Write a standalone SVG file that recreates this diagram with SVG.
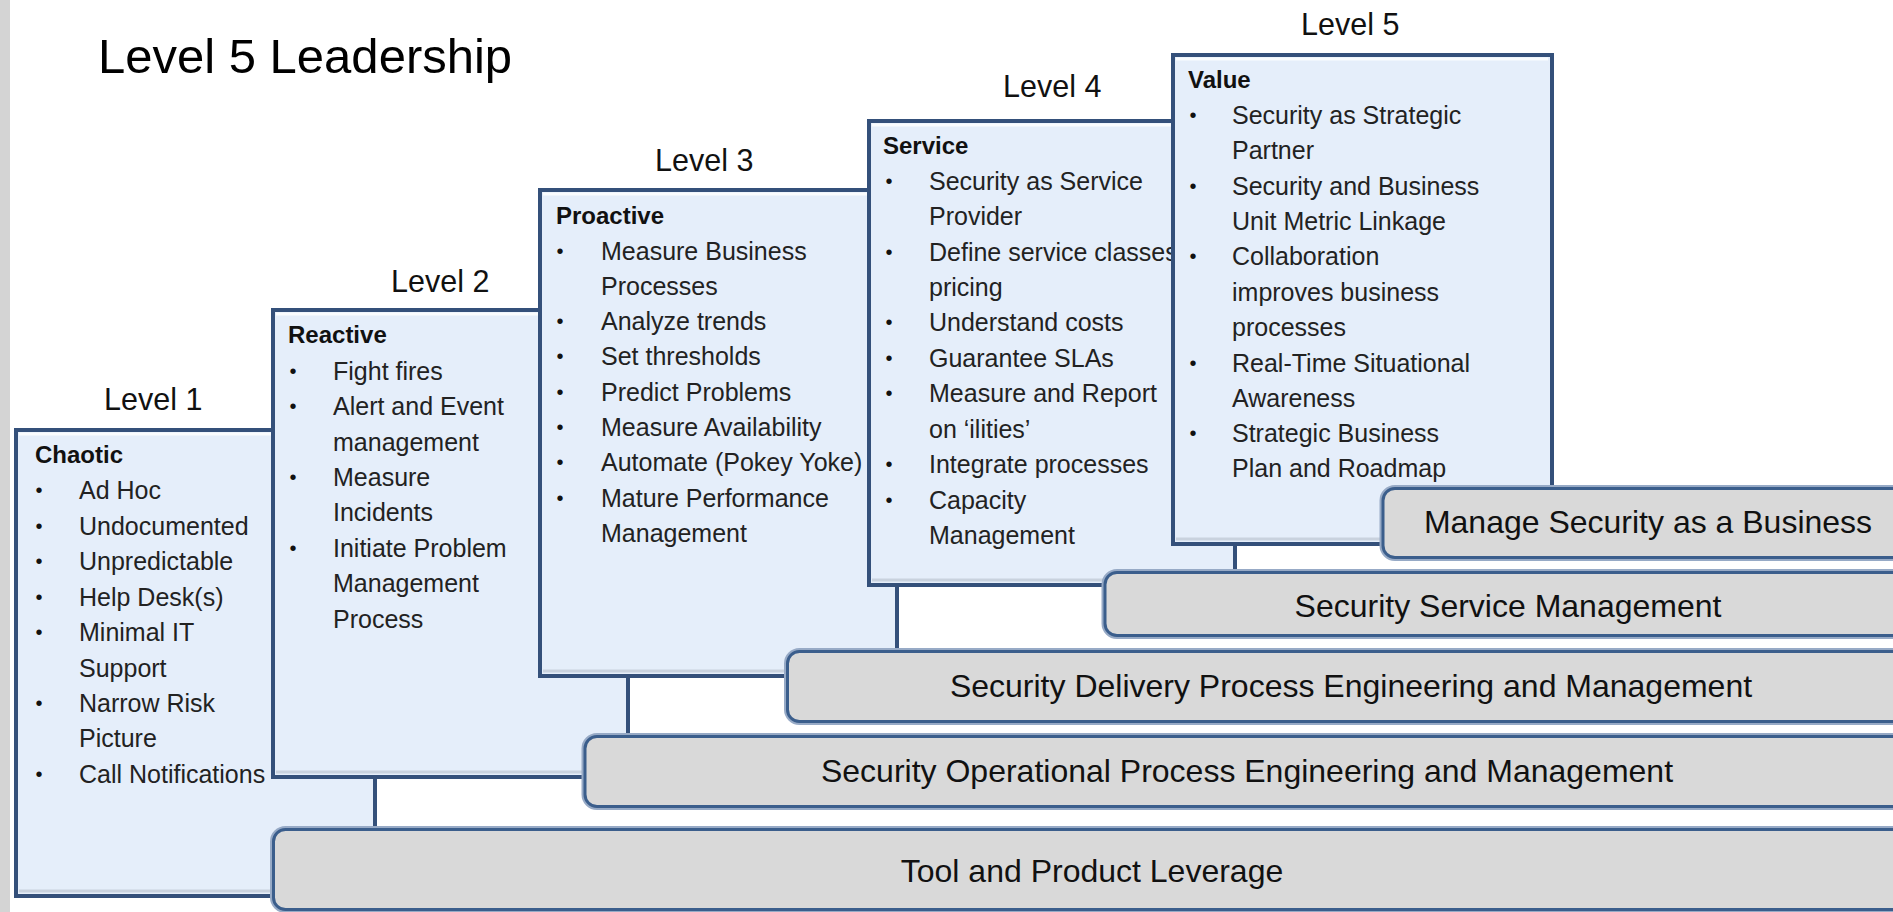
<svg xmlns="http://www.w3.org/2000/svg" width="1893" height="912" viewBox="0 0 1893 912">
<style>
  .box{fill:#e5eefa;stroke:#34507a;stroke-width:4}
  .hl{fill:none;stroke:#ffffff;stroke-width:3;opacity:.8}
  .sh{fill:none;stroke:#c9d2de;stroke-width:3}
  .barH{fill:none;stroke:#97aac6;stroke-width:7}
  .bar{fill:#d9d9d9;stroke:#3b5e8c;stroke-width:3}
  .lvl{font-family:"Liberation Sans",Arial,sans-serif;font-size:30.5px;fill:#111}
  .hd{font-family:"Liberation Sans",Arial,sans-serif;font-size:24px;font-weight:bold;fill:#111}
  .it{font-family:"Liberation Sans",Arial,sans-serif;font-size:25px;fill:#222}
  .bt{font-family:"Liberation Sans",Arial,sans-serif;font-size:20px;fill:#111;text-anchor:middle}
  .bl{font-family:"Liberation Sans",Arial,sans-serif;font-size:32px;fill:#111;text-anchor:middle}
</style>
<rect x="0" y="0" width="1893" height="912" fill="#ffffff"/>
<rect x="0" y="0" width="10" height="912" fill="#d4d4d4"/>
<text x="98" y="73" font-family="Liberation Sans, Arial, sans-serif" font-size="49" fill="#000">Level 5 Leadership</text>

<g id="level1">
  <text class="lvl" x="104" y="410">Level 1</text>
  <rect class="box" x="16" y="430" width="359" height="466"/>
  <line class="hl" x1="19" y1="434" x2="371" y2="434"/>
  <line class="sh" x1="19" y1="891" x2="371" y2="891"/>
  <text class="hd" x="35" y="463">Chaotic</text>
  <g>
    <text class="bt" x="39" y="497">•</text><text class="it" x="79" y="499">Ad Hoc</text>
    <text class="bt" x="39" y="533">•</text><text class="it" x="79" y="535">Undocumented</text>
    <text class="bt" x="39" y="568">•</text><text class="it" x="79" y="570">Unpredictable</text>
    <text class="bt" x="39" y="604">•</text><text class="it" x="79" y="606">Help Desk(s)</text>
    <text class="bt" x="39" y="639">•</text><text class="it" x="79" y="641">Minimal IT</text>
    <text class="it" x="79" y="677">Support</text>
    <text class="bt" x="39" y="710">•</text><text class="it" x="79" y="712">Narrow Risk</text>
    <text class="it" x="79" y="747">Picture</text>
    <text class="bt" x="39" y="781">•</text><text class="it" x="79" y="783">Call Notifications</text>
  </g>
</g>

<g id="level2">
  <text class="lvl" x="391" y="292">Level 2</text>
  <rect class="box" x="273" y="310" width="355" height="467"/>
  <line class="hl" x1="276" y1="314" x2="624" y2="314"/>
  <line class="sh" x1="276" y1="772" x2="624" y2="772"/>
  <text class="hd" x="288" y="343">Reactive</text>
  <text class="bt" x="293" y="378">•</text><text class="it" x="333" y="380">Fight fires</text>
  <text class="bt" x="293" y="413">•</text><text class="it" x="333" y="415">Alert and Event</text>
  <text class="it" x="333" y="451">management</text>
  <text class="bt" x="293" y="484">•</text><text class="it" x="333" y="486">Measure</text>
  <text class="it" x="333" y="521">Incidents</text>
  <text class="bt" x="293" y="555">•</text><text class="it" x="333" y="557">Initiate Problem</text>
  <text class="it" x="333" y="592">Management</text>
  <text class="it" x="333" y="628">Process</text>
</g>

<g id="level3">
  <text class="lvl" x="655" y="171">Level 3</text>
  <rect class="box" x="540" y="190" width="357" height="486"/>
  <line class="hl" x1="543" y1="194" x2="893" y2="194"/>
  <line class="sh" x1="543" y1="671" x2="893" y2="671"/>
  <text class="hd" x="556" y="224">Proactive</text>
  <text class="bt" x="560" y="258">•</text><text class="it" x="601" y="260">Measure Business</text>
  <text class="it" x="601" y="295">Processes</text>
  <text class="bt" x="560" y="328">•</text><text class="it" x="601" y="330">Analyze trends</text>
  <text class="bt" x="560" y="363">•</text><text class="it" x="601" y="365">Set thresholds</text>
  <text class="bt" x="560" y="399">•</text><text class="it" x="601" y="401">Predict Problems</text>
  <text class="bt" x="560" y="434">•</text><text class="it" x="601" y="436">Measure Availability</text>
  <text class="bt" x="560" y="469">•</text><text class="it" x="601" y="471">Automate (Pokey Yoke)</text>
  <text class="bt" x="560" y="505">•</text><text class="it" x="601" y="507">Mature Performance</text>
  <text class="it" x="601" y="542">Management</text>
</g>

<g id="level4">
  <text class="lvl" x="1003" y="97">Level 4</text>
  <rect class="box" x="869" y="121" width="366" height="464"/>
  <line class="hl" x1="872" y1="125" x2="1231" y2="125"/>
  <line class="sh" x1="872" y1="580" x2="1231" y2="580"/>
  <text class="hd" x="883" y="154">Service</text>
  <text class="bt" x="889" y="188">•</text><text class="it" x="929" y="190">Security as Service</text>
  <text class="it" x="929" y="225">Provider</text>
  <text class="bt" x="889" y="259">•</text><text class="it" x="929" y="261">Define service classes</text>
  <text class="it" x="929" y="296">pricing</text>
  <text class="bt" x="889" y="329">•</text><text class="it" x="929" y="331">Understand costs</text>
  <text class="bt" x="889" y="365">•</text><text class="it" x="929" y="367">Guarantee SLAs</text>
  <text class="bt" x="889" y="400">•</text><text class="it" x="929" y="402">Measure and Report</text>
  <text class="it" x="929" y="438">on ‘ilities’</text>
  <text class="bt" x="889" y="471">•</text><text class="it" x="929" y="473">Integrate processes</text>
  <text class="bt" x="889" y="507">•</text><text class="it" x="929" y="509">Capacity</text>
  <text class="it" x="929" y="544">Management</text>
</g>

<g id="level5">
  <text class="lvl" x="1301" y="35">Level 5</text>
  <rect class="box" x="1173" y="55" width="379" height="489"/>
  <line class="hl" x1="1176" y1="59" x2="1548" y2="59"/>
  <line class="sh" x1="1176" y1="539" x2="1548" y2="539"/>
  <text class="hd" x="1188" y="88">Value</text>
  <text class="bt" x="1193" y="122">•</text><text class="it" x="1232" y="124">Security as Strategic</text>
  <text class="it" x="1232" y="159">Partner</text>
  <text class="bt" x="1193" y="193">•</text><text class="it" x="1232" y="195">Security and Business</text>
  <text class="it" x="1232" y="230">Unit Metric Linkage</text>
  <text class="bt" x="1193" y="263">•</text><text class="it" x="1232" y="265">Collaboration</text>
  <text class="it" x="1232" y="301">improves business</text>
  <text class="it" x="1232" y="336">processes</text>
  <text class="bt" x="1193" y="370">•</text><text class="it" x="1232" y="372">Real-Time Situational</text>
  <text class="it" x="1232" y="407">Awareness</text>
  <text class="bt" x="1193" y="440">•</text><text class="it" x="1232" y="442">Strategic Business</text>
  <text class="it" x="1232" y="477">Plan and Roadmap</text>
</g>

<g id="bar-tool">
  <rect class="barH" x="273.5" y="829.5" width="1700" height="80" rx="12"/>
  <rect class="bar" x="273.5" y="829.5" width="1700" height="80" rx="12"/>
  <text class="bl" x="1092" y="882">Tool and Product Leverage</text>
</g>
<g id="bar-operational">
  <rect class="barH" x="585" y="736.5" width="1400" height="70" rx="12"/>
  <rect class="bar" x="585" y="736.5" width="1400" height="70" rx="12"/>
  <text class="bl" x="1247" y="782">Security Operational Process Engineering and Management</text>
</g>
<g id="bar-delivery">
  <rect class="barH" x="787.5" y="651.5" width="1200" height="70" rx="12"/>
  <rect class="bar" x="787.5" y="651.5" width="1200" height="70" rx="12"/>
  <text class="bl" x="1351" y="697">Security Delivery Process Engineering and Management</text>
</g>
<g id="bar-service">
  <rect class="barH" x="1105" y="572.5" width="900" height="63" rx="12"/>
  <rect class="bar" x="1105" y="572.5" width="900" height="63" rx="12"/>
  <text class="bl" x="1508" y="617">Security Service Management</text>
</g>
<g id="bar-manage">
  <rect class="barH" x="1383" y="488.5" width="700" height="69" rx="12"/>
  <rect class="bar" x="1383" y="488.5" width="700" height="69" rx="12"/>
  <text class="bl" x="1648" y="533">Manage Security as a Business</text>
</g>
</svg>
